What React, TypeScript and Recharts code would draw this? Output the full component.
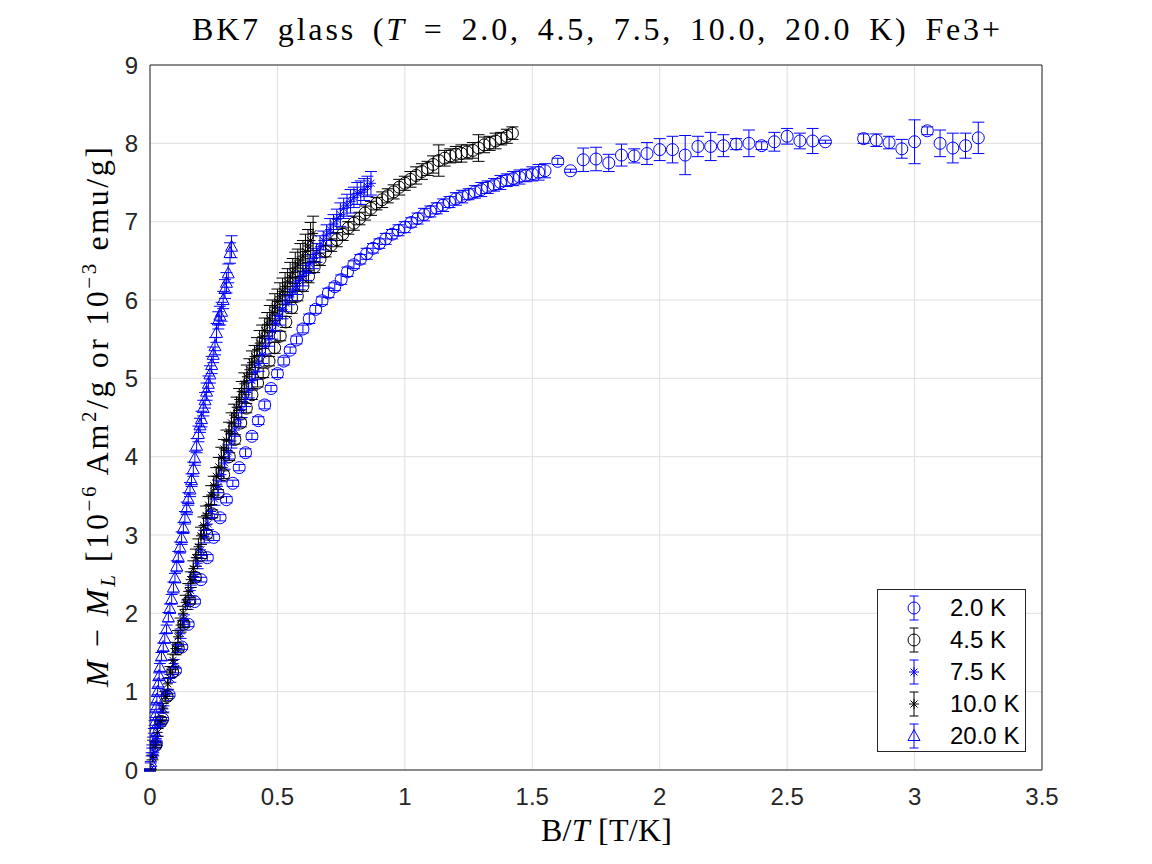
import React from 'react';
import { ScatterChart, Scatter, XAxis, YAxis, CartesianGrid, ErrorBar, Legend } from 'recharts';

const BLUE = '#0000ff';
const BLACK = '#000000';
const AXIS = '#262626';
const GRID = '#dfdfdf';
const SANS = '"Liberation Sans", Arial, Helvetica, sans-serif';
const SERIF = '"Liberation Serif", "Times New Roman", serif';

const xTicks = [0, 0.5, 1, 1.5, 2, 2.5, 3, 3.5];
const yTicks = [0, 1, 2, 3, 4, 5, 6, 7, 8, 9];
const seriesNames = ['2.0 K', '4.5 K', '7.5 K', '10.0 K', '20.0 K'];

// T = 2.0 K (blue circles)
const t2x = [
  0, 0.025, 0.05, 0.075, 0.1, 0.125, 0.15, 0.175, 0.2, 0.225, 0.25, 0.275, 0.3, 0.325, 0.35, 0.375,
  0.4, 0.425, 0.45, 0.475, 0.5, 0.525, 0.55, 0.575, 0.6, 0.625, 0.65, 0.675, 0.7, 0.725, 0.75, 0.775,
  0.8, 0.825, 0.85, 0.875, 0.9, 0.925, 0.95, 0.975, 1.0, 1.025, 1.05, 1.075, 1.1, 1.125, 1.15, 1.175,
  1.2, 1.225, 1.25, 1.275, 1.3, 1.325, 1.35, 1.375, 1.4, 1.425, 1.45, 1.475, 1.5, 1.525, 1.55,
  1.6, 1.65, 1.7, 1.75, 1.8, 1.85, 1.9, 1.95, 2.0, 2.05, 2.1, 2.15, 2.2, 2.25, 2.3, 2.35, 2.4, 2.45,
  2.5, 2.55, 2.6, 2.65, 2.8, 2.85, 2.9, 2.95, 3.0, 3.05, 3.1, 3.15, 3.2, 3.25,
];
const t2y = [
  0.0, 0.33, 0.65, 0.96, 1.27, 1.57, 1.86, 2.15, 2.43, 2.71, 2.97, 3.22, 3.45, 3.66, 3.86, 4.05,
  4.26, 4.46, 4.66, 4.87, 5.06, 5.22, 5.36, 5.49, 5.63, 5.76, 5.88, 5.99, 6.09, 6.17, 6.26, 6.36,
  6.45, 6.52, 6.59, 6.66, 6.72, 6.78, 6.84, 6.89, 6.93, 6.99, 7.04, 7.09, 7.13, 7.17, 7.21, 7.25,
  7.29, 7.32, 7.35, 7.38, 7.41, 7.44, 7.47, 7.5, 7.53, 7.55, 7.57, 7.59, 7.61, 7.63, 7.65,
  7.77, 7.65, 7.79, 7.8, 7.75, 7.85, 7.84, 7.87, 7.92, 7.92, 7.85, 7.96, 7.96, 7.97, 7.99, 8.0, 7.97, 8.02,
  8.09, 8.03, 8.03, 8.02, 8.06, 8.04, 8.01, 7.93, 8.02, 8.16, 8.0, 7.94, 7.97, 8.07,
];
const t2e = [
  0.01, 0.02, 0.02, 0.02, 0.03, 0.03, 0.03, 0.03, 0.03, 0.04, 0.04, 0.04, 0.04, 0.04, 0.04, 0.05,
  0.04, 0.05, 0.05, 0.04, 0.05, 0.05, 0.04, 0.05, 0.05, 0.06, 0.05, 0.05, 0.06, 0.05, 0.06, 0.06,
  0.05, 0.06, 0.07, 0.06, 0.06, 0.07, 0.06, 0.07, 0.07, 0.06, 0.07, 0.08, 0.07, 0.07, 0.08, 0.07,
  0.08, 0.08, 0.07, 0.08, 0.09, 0.08, 0.08, 0.09, 0.08, 0.09, 0.09, 0.08, 0.09, 0.1, 0.09,
  0.04, 0.02, 0.15, 0.15, 0.11, 0.14, 0.09, 0.14, 0.14, 0.17, 0.25, 0.13, 0.18, 0.14, 0.07, 0.17, 0.05, 0.12,
  0.1, 0.1, 0.16, 0.02, 0.06, 0.08, 0.08, 0.12, 0.28, 0.05, 0.17, 0.19, 0.16, 0.2,
];

// T = 4.5 K (black circles)
const t45x = [
  0, 0.022, 0.044, 0.067, 0.089, 0.111, 0.133, 0.156, 0.178, 0.2, 0.222, 0.244, 0.267, 0.289, 0.311,
  0.333, 0.356, 0.378, 0.4, 0.422, 0.444, 0.467, 0.489, 0.511, 0.533, 0.556, 0.578, 0.6, 0.622, 0.644,
  0.667, 0.689, 0.711, 0.733, 0.756, 0.778, 0.8, 0.822, 0.844, 0.867, 0.889, 0.911, 0.933, 0.956, 0.978,
  1.0, 1.022, 1.044, 1.067, 1.089, 1.111, 1.133, 1.156, 1.178, 1.2, 1.222, 1.244, 1.267, 1.289, 1.311,
  1.333, 1.356, 1.378, 1.4, 1.422,
];
const t45y = [
  0, 0.31, 0.62, 0.94, 1.25, 1.55, 1.86, 2.16, 2.46, 2.74, 3.01, 3.27, 3.53, 3.77, 4.0,
  4.22, 4.43, 4.62, 4.79, 4.94, 5.07, 5.22, 5.39, 5.54, 5.72, 5.9, 6.05, 6.18, 6.3, 6.42,
  6.52, 6.62, 6.7, 6.77, 6.84, 6.92, 6.98, 7.04, 7.11, 7.17, 7.23, 7.28, 7.33, 7.38, 7.44,
  7.49, 7.54, 7.59, 7.64, 7.68, 7.73, 7.78, 7.81, 7.84, 7.86, 7.87, 7.89, 7.91, 7.94, 7.98,
  8.0, 8.03, 8.06, 8.09, 8.13,
];
const t45e = [
  0.01, 0.02, 0.02, 0.03, 0.03, 0.03, 0.04, 0.04, 0.04, 0.04, 0.05, 0.05, 0.05, 0.05, 0.05,
  0.06, 0.05, 0.06, 0.06, 0.05, 0.06, 0.06, 0.07, 0.06, 0.07, 0.07, 0.06, 0.07, 0.08, 0.07,
  0.08, 0.07, 0.08, 0.09, 0.08, 0.08, 0.09, 0.08, 0.09, 0.09, 0.08, 0.1, 0.09, 0.09, 0.1,
  0.09, 0.1, 0.11, 0.1, 0.09, 0.11, 0.2, 0.1, 0.09, 0.1, 0.11, 0.09, 0.1, 0.17, 0.1,
  0.09, 0.1, 0.08, 0.09, 0.08,
];

// T = 7.5 K (blue asterisks)
const t75x = [
  0, 0.013, 0.027, 0.04, 0.053, 0.067, 0.08, 0.093, 0.107, 0.12, 0.133, 0.147, 0.16, 0.173, 0.187,
  0.2, 0.213, 0.227, 0.24, 0.253, 0.267, 0.28, 0.293, 0.307, 0.32, 0.333, 0.347, 0.36, 0.373, 0.387,
  0.4, 0.413, 0.427, 0.44, 0.453, 0.467, 0.48, 0.493, 0.507, 0.52, 0.533, 0.547, 0.56, 0.573, 0.587,
  0.6, 0.613, 0.627, 0.64, 0.653, 0.667, 0.68, 0.693, 0.707, 0.72, 0.733, 0.747, 0.76, 0.773, 0.787,
  0.8, 0.813, 0.827, 0.84, 0.853, 0.867,
];
const t75y = [
  0, 0.2, 0.4, 0.59, 0.78, 0.98, 1.17, 1.36, 1.55, 1.74, 1.92, 2.11, 2.29, 2.46, 2.64,
  2.81, 2.98, 3.14, 3.3, 3.46, 3.62, 3.77, 3.92, 4.06, 4.2, 4.34, 4.47, 4.6, 4.73, 4.85,
  4.97, 5.08, 5.19, 5.3, 5.41, 5.51, 5.61, 5.7, 5.79, 5.88, 5.96, 6.04, 6.11, 6.18, 6.25,
  6.31, 6.36, 6.46, 6.53, 6.6, 6.68, 6.76, 6.83, 6.9, 6.97, 7.03, 7.09, 7.17, 7.21, 7.26,
  7.31, 7.36, 7.37, 7.41, 7.45, 7.49,
];
const t75e = [
  0.01, 0.02, 0.03, 0.03, 0.04, 0.04, 0.05, 0.05, 0.05, 0.06, 0.06, 0.06, 0.07, 0.06, 0.07,
  0.07, 0.08, 0.07, 0.08, 0.08, 0.08, 0.09, 0.08, 0.09, 0.09, 0.08, 0.09, 0.1, 0.09, 0.1,
  0.1, 0.09, 0.1, 0.11, 0.1, 0.1, 0.11, 0.1, 0.11, 0.12, 0.11, 0.1, 0.12, 0.11, 0.12,
  0.13, 0.11, 0.12, 0.13, 0.12, 0.14, 0.12, 0.13, 0.14, 0.12, 0.13, 0.15, 0.13, 0.14, 0.15,
  0.13, 0.14, 0.15, 0.14, 0.13, 0.15,
];

// T = 10.0 K (black asterisks)
const t10x = [
  0, 0.01, 0.02, 0.03, 0.04, 0.05, 0.06, 0.07, 0.08, 0.09, 0.1, 0.11, 0.12, 0.13, 0.14, 0.15,
  0.16, 0.17, 0.18, 0.19, 0.2, 0.21, 0.22, 0.23, 0.24, 0.25, 0.26, 0.27, 0.28, 0.29, 0.3, 0.31,
  0.32, 0.33, 0.34, 0.35, 0.36, 0.37, 0.38, 0.39, 0.4, 0.41, 0.42, 0.43, 0.44, 0.45, 0.46, 0.47,
  0.48, 0.49, 0.5, 0.51, 0.52, 0.53, 0.54, 0.55, 0.56, 0.57, 0.58, 0.59, 0.6, 0.61, 0.62, 0.63, 0.64,
];
const t10y = [
  0, 0.16, 0.32, 0.48, 0.63, 0.79, 0.94, 1.1, 1.25, 1.4, 1.55, 1.7, 1.85, 2.0, 2.14, 2.28,
  2.43, 2.57, 2.71, 2.85, 2.99, 3.12, 3.25, 3.38, 3.51, 3.63, 3.75, 3.87, 3.99, 4.1, 4.21, 4.32,
  4.43, 4.53, 4.63, 4.73, 4.83, 4.93, 5.02, 5.11, 5.2, 5.28, 5.37, 5.45, 5.53, 5.61, 5.69, 5.76,
  5.84, 5.91, 5.98, 6.04, 6.11, 6.17, 6.23, 6.29, 6.35, 6.41, 6.46, 6.51, 6.56, 6.62, 6.69, 6.76, 6.85,
];
const t10e = [
  0.01, 0.03, 0.04, 0.05, 0.05, 0.06, 0.06, 0.07, 0.07, 0.08, 0.08, 0.08, 0.09, 0.09, 0.09, 0.1,
  0.1, 0.1, 0.11, 0.1, 0.11, 0.11, 0.12, 0.11, 0.12, 0.12, 0.11, 0.12, 0.13, 0.12, 0.13, 0.12,
  0.13, 0.14, 0.13, 0.14, 0.13, 0.14, 0.15, 0.14, 0.15, 0.14, 0.15, 0.16, 0.15, 0.16, 0.15, 0.17,
  0.16, 0.17, 0.16, 0.18, 0.17, 0.18, 0.17, 0.19, 0.18, 0.2, 0.19, 0.21, 0.2, 0.22, 0.21, 0.23, 0.22,
];

// T = 20.0 K (blue triangles)
const t20x = [
  0, 0.003, 0.006, 0.009, 0.012, 0.015, 0.018, 0.021, 0.024, 0.027, 0.03, 0.033, 0.036, 0.039,
  0.045, 0.052, 0.058, 0.065, 0.072, 0.078, 0.085, 0.092, 0.098, 0.105,
  0.111, 0.118, 0.124, 0.131, 0.137, 0.144, 0.15, 0.157, 0.163, 0.17,
  0.176, 0.183, 0.19, 0.196, 0.202, 0.209, 0.216, 0.222, 0.229, 0.235,
  0.242, 0.248, 0.255, 0.261, 0.268, 0.274, 0.281, 0.287, 0.294, 0.3,
  0.307, 0.314, 0.32,
];
const t20y = [
  0, 0.1, 0.2, 0.3, 0.4, 0.5, 0.6, 0.7, 0.8, 0.9, 1.0, 1.1, 1.2, 1.31,
  1.45, 1.57, 1.68, 1.8, 1.95, 2.06, 2.18, 2.33, 2.45, 2.6,
  2.72, 2.84, 2.96, 3.09, 3.22, 3.34, 3.46, 3.58, 3.7, 3.84,
  3.98, 4.14, 4.29, 4.4, 4.48, 4.62, 4.72, 4.83, 4.93, 5.05,
  5.17, 5.3, 5.41, 5.58, 5.74, 5.8, 5.85, 6.0, 6.14, 6.22,
  6.34, 6.6, 6.68,
];
const t20e = [
  0.01, 0.01, 0.02, 0.02, 0.02, 0.03, 0.03, 0.03, 0.03, 0.04, 0.04, 0.04, 0.04, 0.05,
  0.05, 0.05, 0.06, 0.05, 0.06, 0.06, 0.06, 0.07, 0.06, 0.07,
  0.07, 0.07, 0.08, 0.07, 0.08, 0.08, 0.08, 0.09, 0.08, 0.09,
  0.09, 0.09, 0.1, 0.09, 0.1, 0.1, 0.1, 0.11, 0.1, 0.11,
  0.11, 0.1, 0.11, 0.12, 0.11, 0.12, 0.12, 0.11, 0.12, 0.13,
  0.12, 0.13, 0.14,
];

type Pt = { x: number; y: number; e: number };
type Kind = 'circle' | 'star' | 'triangle';

const build = (xs: number[], ys: number[], es: number[]): Pt[] =>
  xs.map((x, i) => ({ x, y: ys[i], e: es[i] ?? 0.05 }));

const series: { name: string; color: string; kind: Kind; data: Pt[] }[] = [
  { name: seriesNames[0], color: BLUE, kind: 'circle', data: build(t2x, t2y, t2e) },
  { name: seriesNames[1], color: BLACK, kind: 'circle', data: build(t45x, t45y, t45e) },
  { name: seriesNames[2], color: BLUE, kind: 'star', data: build(t75x, t75y, t75e) },
  { name: seriesNames[3], color: BLACK, kind: 'star', data: build(t10x, t10y, t10e) },
  { name: seriesNames[4], color: BLUE, kind: 'triangle', data: build(t20x, t20y, t20e) },
];

function Marker({ kind, cx, cy, color }: { kind: Kind; cx: number; cy: number; color: string }) {
  if (cx == null || cy == null || isNaN(cx) || isNaN(cy)) return <g />;
  if (kind === 'circle') {
    return <circle cx={cx} cy={cy} r={6} fill="none" stroke={color} strokeWidth={1} />;
  }
  if (kind === 'triangle') {
    const pts = `${cx},${cy - 6.5} ${cx - 6},${cy + 4.5} ${cx + 6},${cy + 4.5}`;
    return <polygon points={pts} fill="none" stroke={color} strokeWidth={1} />;
  }
  const r = 5;
  const d = 3.5;
  return (
    <g stroke={color} strokeWidth={1}>
      <line x1={cx - r} y1={cy} x2={cx + r} y2={cy} />
      <line x1={cx} y1={cy - r} x2={cx} y2={cy + r} />
      <line x1={cx - d} y1={cy - d} x2={cx + d} y2={cy + d} />
      <line x1={cx - d} y1={cy + d} x2={cx + d} y2={cy - d} />
    </g>
  );
}

function LegendBox({ payload }: { payload?: any[] }) {
  const present: string[] = payload && payload.length ? payload.map((p) => String(p.value)) : seriesNames;
  const names = seriesNames.filter((n) => present.includes(n));
  return (
    <div
      style={{
        position: 'relative',
        width: 149,
        height: 163,
        boxSizing: 'border-box',
        border: `1px solid ${AXIS}`,
        background: '#ffffff',
      }}
    >
      {names.map((nm, i) => {
        const s = series.find((q) => q.name === nm) || series[i];
        const cy = 18 + 32 * i;
        return (
          <React.Fragment key={nm}>
            <svg
              width={30}
              height={30}
              style={{ position: 'absolute', left: 21, top: cy - 15, overflow: 'visible' }}
            >
              <g stroke={s.color} strokeWidth={1}>
                <line x1={15} y1={3} x2={15} y2={27} />
                <line x1={10.5} y1={3} x2={19.5} y2={3} />
                <line x1={10.5} y1={27} x2={19.5} y2={27} />
              </g>
              <Marker kind={s.kind} cx={15} cy={15} color={s.color} />
            </svg>
            <div
              style={{
                position: 'absolute',
                left: 72,
                top: cy - 14,
                height: 28,
                lineHeight: '28px',
                fontFamily: SANS,
                fontSize: 24,
                color: '#000000',
                whiteSpace: 'nowrap',
              }}
            >
              {nm}
            </div>
          </React.Fragment>
        );
      })}
    </div>
  );
}

export default function App() {
  const W = 1152;
  const H = 864;
  const sup = 21;
  return (
    <div style={{ position: 'absolute', left: 0, top: 0, width: W, height: H, background: '#ffffff' }}>
      <ScatterChart
        width={W}
        height={H}
        margin={{ top: 65, right: 110, bottom: 54, left: 90 }}
      >
        <CartesianGrid stroke={GRID} strokeWidth={1} />
        <XAxis
          xAxisId={0}
          type="number"
          dataKey="x"
          domain={[0, 3.5]}
          ticks={xTicks}
          interval={0}
          allowDataOverflow
          height={40}
          tickLine={false}
          tickSize={0}
          tickMargin={18}
          axisLine={{ stroke: AXIS, strokeWidth: 1 }}
          tick={{ fill: AXIS, fontSize: 24, fontFamily: SANS }}
        />
        <XAxis
          xAxisId="xb"
          type="number"
          dataKey="x"
          orientation="bottom"
          mirror
          domain={[0, 3.5]}
          ticks={xTicks}
          interval={0}
          allowDataOverflow
          tick={false}
          axisLine={false}
          tickLine={{ stroke: AXIS, strokeWidth: 1 }}
          tickSize={8}
        />
        <XAxis
          xAxisId="xt"
          type="number"
          dataKey="x"
          orientation="top"
          mirror
          domain={[0, 3.5]}
          ticks={xTicks}
          interval={0}
          allowDataOverflow
          tick={false}
          axisLine={{ stroke: AXIS, strokeWidth: 1 }}
          tickLine={{ stroke: AXIS, strokeWidth: 1 }}
          tickSize={8}
        />
        <YAxis
          yAxisId={0}
          type="number"
          dataKey="y"
          domain={[0, 9]}
          ticks={yTicks}
          interval={0}
          allowDataOverflow
          width={60}
          tickLine={false}
          tickSize={0}
          tickMargin={12}
          axisLine={{ stroke: AXIS, strokeWidth: 1 }}
          tick={{ fill: AXIS, fontSize: 24, fontFamily: SANS }}
        />
        <YAxis
          yAxisId="yl"
          type="number"
          dataKey="y"
          orientation="left"
          mirror
          domain={[0, 9]}
          ticks={yTicks}
          interval={0}
          allowDataOverflow
          tick={false}
          axisLine={false}
          tickLine={{ stroke: AXIS, strokeWidth: 1 }}
          tickSize={8}
        />
        <YAxis
          yAxisId="yr"
          type="number"
          dataKey="y"
          orientation="right"
          mirror
          domain={[0, 9]}
          ticks={yTicks}
          interval={0}
          allowDataOverflow
          tick={false}
          axisLine={{ stroke: AXIS, strokeWidth: 1 }}
          tickLine={{ stroke: AXIS, strokeWidth: 1 }}
          tickSize={8}
        />
        {series.map((s) => (
          <Scatter
            key={s.name}
            name={s.name}
            data={s.data}
            xAxisId={0}
            yAxisId={0}
            fill={s.color}
            stroke={s.color}
            isAnimationActive={false}
            shape={(p: any) => <Marker kind={s.kind} cx={p.cx} cy={p.cy} color={s.color} />}
          >
            <ErrorBar
              dataKey="e"
              direction="y"
              width={6}
              stroke={s.color}
              strokeWidth={1}
              isAnimationActive={false}
            />
          </Scatter>
        ))}
        <Legend
          layout="vertical"
          align="center"
          verticalAlign="middle"
          wrapperStyle={{ position: 'absolute', left: 877, top: 589, width: 149, height: 163 }}
          content={(p: any) => <LegendBox payload={p.payload} />}
        />
      </ScatterChart>
      <svg
        width={W}
        height={H}
        style={{ position: 'absolute', left: 0, top: 0, pointerEvents: 'none' }}
      >
        <text
          x={192}
          y={40}
          fontFamily={SERIF}
          fontSize={32}
          fill="#000000"
          wordSpacing={6}
          textLength={808}
          lengthAdjust="spacing"
        >
          BK7 glass (<tspan fontStyle="italic">T</tspan> = 2.0, 4.5, 7.5, 10.0, 20.0 K) Fe3+
        </text>
        <text
          x={541}
          y={841}
          fontFamily={SERIF}
          fontSize={32}
          fill="#000000"
          textLength={131}
          lengthAdjust="spacing"
        >
          B/<tspan fontStyle="italic">T</tspan> [T/K]
        </text>
        <text
          transform="translate(108,687) rotate(-90)"
          x={0}
          y={0}
          fontFamily={SERIF}
          fontSize={32}
          fill="#000000"
          textLength={540}
          lengthAdjust="spacing"
        >
          <tspan fontStyle="italic">M</tspan> − <tspan fontStyle="italic">M</tspan>
          <tspan fontStyle="italic" fontSize={sup} dy={7}>L</tspan>
          <tspan dy={-7}> [10</tspan>
          <tspan fontSize={sup} dy={-12}>−6</tspan>
          <tspan dy={12}> Am</tspan>
          <tspan fontSize={sup} dy={-12}>2</tspan>
          <tspan dy={12}>/g or 10</tspan>
          <tspan fontSize={sup} dy={-12}>−3</tspan>
          <tspan dy={12}> emu/g]</tspan>
        </text>
      </svg>
    </div>
  );
}
